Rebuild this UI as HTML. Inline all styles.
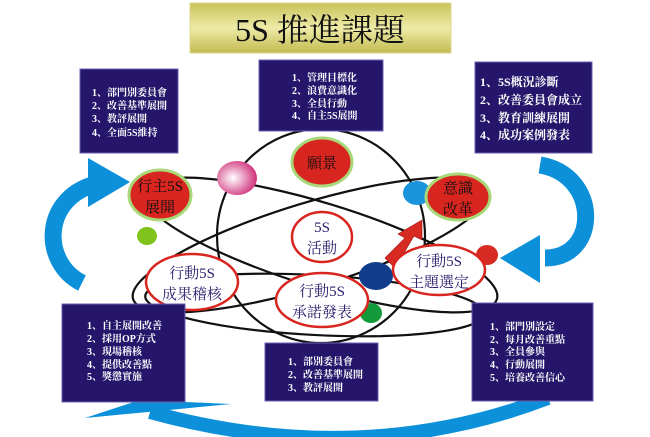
<!DOCTYPE html>
<html><head><meta charset="utf-8"><style>
body{margin:0;width:650px;height:437px;background:#fff;overflow:hidden}
svg{display:block}
text{font-family:"Liberation Serif","Noto Serif CJK SC","Noto Sans CJK TC",serif}
.w{fill:#fff;font-size:10px;font-weight:bold}
.n{fill:#2a1f6e;font-size:15px}
.r{fill:#111;font-size:15px}
</style></head><body>
<svg width="650" height="437" viewBox="0 0 650 437">
<defs>
<linearGradient id="g" x1="0" y1="0" x2="0" y2="1">
<stop offset="0" stop-color="#c8c25a"/><stop offset="0.5" stop-color="#eeeba8"/><stop offset="1" stop-color="#c2ba4e"/></linearGradient>
<radialGradient id="p" cx="0.4" cy="0.5" r="0.6"><stop offset="0" stop-color="#fff"/><stop offset="1" stop-color="#d0307a"/></radialGradient>
</defs>
<rect x="190" y="3" width="261" height="50" fill="url(#g)" stroke="#ddd890"/>
<text x="320" y="41" text-anchor="middle" font-size="32" fill="#111">5S 推進課題</text>

<!-- blue arrows -->
<path d="M82 283 C40 262 42 195 100 183" fill="none" stroke="#0b90d9" stroke-width="17"/>
<polygon points="88,158 130,182 88,207" fill="#0b90d9"/>
<path d="M540 165 C600 175 600 258 545 258" fill="none" stroke="#0b90d9" stroke-width="17"/>
<polygon points="540,235 500,258 540,283" fill="#0b90d9"/>
<path d="M548 398 Q360 470 150 412" fill="none" stroke="#0b90d9" stroke-width="14"/>
<polygon points="85,418 140,400 231,404" fill="#0b90d9"/>

<!-- black orbits -->
<g fill="none" stroke="#111" stroke-width="2.2">
<ellipse cx="321" cy="236" rx="104" ry="107"/>
<ellipse cx="320" cy="245" rx="185" ry="42" transform="rotate(17 320 245)"/>
<ellipse cx="310" cy="245" rx="185" ry="42" transform="rotate(-17 310 245)"/>
<ellipse cx="315" cy="305" rx="170" ry="30" transform="rotate(3 315 305)"/>
</g>

<!-- balls -->
<ellipse cx="237" cy="178" rx="20" ry="17" fill="url(#p)"/>
<ellipse cx="417" cy="193" rx="14" ry="12" fill="#1a94dc"/>
<ellipse cx="147" cy="236" rx="10" ry="9" fill="#7fc31c"/>
<ellipse cx="376" cy="276" rx="17" ry="14" fill="#123d8c"/>
<ellipse cx="371" cy="313" rx="11" ry="10" fill="#129a3a"/>
<ellipse cx="487" cy="255" rx="11" ry="10" fill="#d62a22"/>
<!-- red arrow -->
<polygon points="385,258 405,238 398,234 422,220 422,240 414,236 395,268" fill="#d62a22" stroke="#a01010" stroke-width="0.6"/>

<!-- red nodes -->
<g fill="#d8251f" stroke="#a8d878" stroke-width="3">
<ellipse cx="322" cy="162" rx="30" ry="24"/>
<ellipse cx="160" cy="195" rx="31" ry="25"/>
<ellipse cx="458" cy="197" rx="32" ry="23"/>
</g>
<text x="322" y="168" class="r" text-anchor="middle">願景</text>
<text x="160" y="191" class="r" text-anchor="middle">行主5S</text>
<text x="160" y="212" class="r" text-anchor="middle">展開</text>
<text x="458" y="193" class="r" text-anchor="middle">意識</text>
<text x="458" y="214" class="r" text-anchor="middle">改革</text>

<!-- white nodes -->
<g fill="#fff" stroke="#d8251f" stroke-width="2.5">
<ellipse cx="322" cy="237" rx="30" ry="25"/>
<ellipse cx="192" cy="282" rx="46" ry="28"/>
<ellipse cx="322" cy="300" rx="46" ry="27"/>
<ellipse cx="439" cy="270" rx="46" ry="25"/>
</g>
<text x="322" y="232" class="n" text-anchor="middle">5S</text>
<text x="322" y="253" class="n" text-anchor="middle">活動</text>
<text x="192" y="278" class="n" text-anchor="middle">行動5S</text>
<text x="192" y="299" class="n" text-anchor="middle">成果稽核</text>
<text x="322" y="296" class="n" text-anchor="middle">行動5S</text>
<text x="322" y="317" class="n" text-anchor="middle">承諾發表</text>
<text x="439" y="266" class="n" text-anchor="middle">行動5S</text>
<text x="439" y="287" class="n" text-anchor="middle">主題選定</text>

<!-- boxes -->
<g fill="#26166b" stroke="#6a60b0" stroke-width="1">
<rect x="80" y="69" width="98" height="84"/>
<rect x="259" y="60" width="124" height="71"/>
<rect x="475" y="62" width="117" height="91"/>
<rect x="62" y="304" width="123" height="98"/>
<rect x="265" y="343" width="113" height="58"/>
<rect x="472" y="303" width="121" height="98"/>
</g>
<g class="w">
<text x="92" y="96">1、部門別委員會</text>
<text x="92" y="109">2、改善基準展開</text>
<text x="92" y="122">3、教評展開</text>
<text x="92" y="136">4、全面5S維持</text>
<text x="292" y="81">1、管理目標化</text>
<text x="292" y="94">2、浪費意識化</text>
<text x="292" y="107">3、全員行動</text>
<text x="292" y="119">4、自主5S展開</text>
<text x="87" y="329">1、自主展開改善</text>
<text x="87" y="342">2、採用OP方式</text>
<text x="87" y="355">3、現場稽核</text>
<text x="87" y="368">4、提供改善點</text>
<text x="87" y="380">5、獎懲實施</text>
<text x="288" y="365">1、部別委員會</text>
<text x="288" y="378">2、改善基準展開</text>
<text x="288" y="391">3、教評展開</text>
<text x="490" y="330">1、部門別設定</text>
<text x="490" y="343">2、每月改善重點</text>
<text x="490" y="355">3、全員參與</text>
<text x="490" y="368">4、行動展開</text>
<text x="490" y="381">5、培養改善信心</text>
</g>
<g fill="#fff" font-size="12" font-weight="bold">
<text x="480" y="86">1、5S概況診斷</text>
<text x="480" y="104">2、改善委員會成立</text>
<text x="480" y="122">3、教育訓練展開</text>
<text x="480" y="139">4、成功案例發表</text>
</g>
</svg>
</body></html>
